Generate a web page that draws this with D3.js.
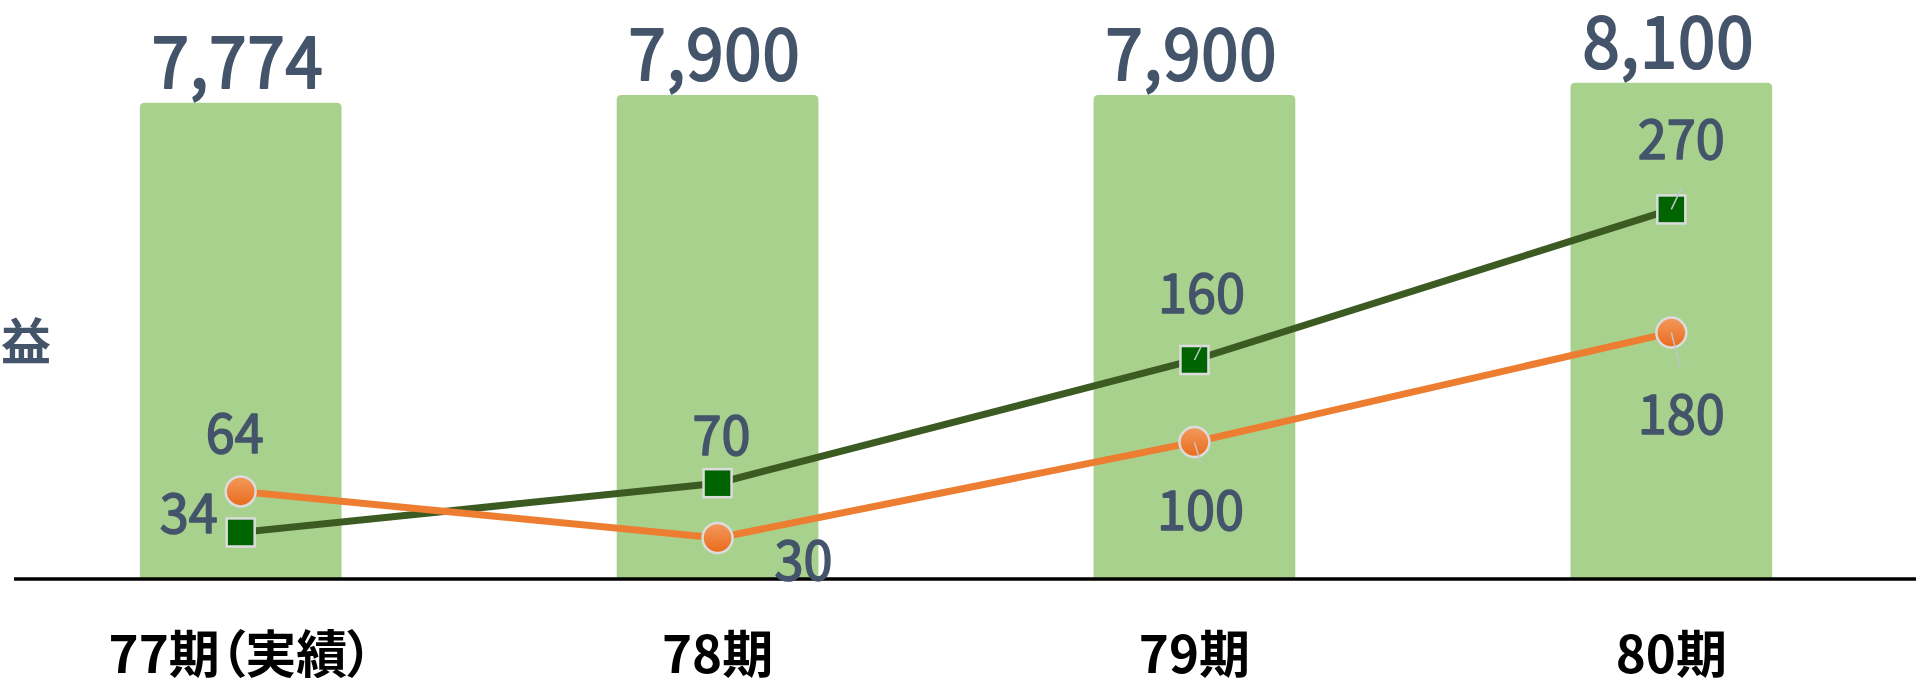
<!DOCTYPE html>
<html>
<head>
<meta charset="utf-8">
<script src="https://cdn.jsdelivr.net/npm/d3@7"></script>
<style>
	html, body { margin: 0; padding: 0; background: #fff; overflow: hidden; }
	svg { display: block; font-family: "Noto Sans CJK JP", "Noto Sans", sans-serif; }
	.cat { font-feature-settings: "palt"; }
</style>
</head>
<body>
<div id="chart"></div>
<script>
var categories = ['77期（実績）', '78期', '79期', '80期'];
var sales = [7774, 7900, 7900, 8100];
var profitA = [34, 70, 160, 270];   // green squares
var profitB = [64, 30, 100, 180];   // orange circles

// label placement, relative to each point (dx, dy to baseline), optional leader end
var labelA = [
	{dx: -52, dy: 1}, {dx: 4, dy: -28},
	{dx: 7, dy: -47, lx: 7, ly: -14}, {dx: 10, dy: -50, lx: 10, ly: -21}
];
var labelB = [
	{dx: -6, dy: -38}, {dx: 86, dy: 42},
	{dx: 6, dy: 88, lx: 6, ly: 20}, {dx: 10, dy: 101, lx: 9, ly: 35}
];

window.onload = function () {
	var width = 1916, height = 678, baseY = 579;
	var textColor = '#44546a';

	var svg = d3.select('#chart').append('svg')
		.attr('width', width)
		.attr('height', height);

	var defs = svg.append('defs');
	var grad = defs.append('linearGradient')
		.attr('id', 'orangeFill')
		.attr('x1', 0).attr('y1', 0).attr('x2', 0).attr('y2', 1);
	grad.append('stop').attr('offset', '0%').attr('stop-color', '#f29a5e');
	grad.append('stop').attr('offset', '100%').attr('stop-color', '#ea6a1a');

	var x = d3.scaleBand()
		.domain(categories)
		.range([2, 1910])
		.paddingInner(0.577)
		.paddingOuter(0.289);

	var yBar = d3.scaleLinear().domain([0, 9450]).range([baseY, 0]);
	var yLine = d3.scaleLinear().domain([0, 423]).range([baseY, 0]);

	function cx(i) { return x(categories[i]) + x.bandwidth() / 2; }

	// "益" from the clipped axis title
	svg.append('text')
		.attr('x', 26)
		.attr('y', 360)
		.attr('text-anchor', 'middle')
		.attr('font-size', 50)
		.attr('font-weight', 700)
		.attr('fill', textColor)
		.text('益');

	// bars
	svg.append('g').selectAll('path')
		.data(sales)
		.enter().append('path')
		.attr('fill', '#a9d18e')
		.attr('d', function (d, i) {
			var x0 = x(categories[i]), w = x.bandwidth(), y0 = yBar(d), r = 5;
			return 'M' + x0 + ',' + baseY +
				'L' + x0 + ',' + (y0 + r) +
				'Q' + x0 + ',' + y0 + ' ' + (x0 + r) + ',' + y0 +
				'L' + (x0 + w - r) + ',' + y0 +
				'Q' + (x0 + w) + ',' + y0 + ' ' + (x0 + w) + ',' + (y0 + r) +
				'L' + (x0 + w) + ',' + baseY + 'Z';
		});

	svg.append('g').selectAll('text')
		.data(sales)
		.enter().append('text')
		.attr('transform', function (d, i) {
			return 'translate(' + (cx(i) - 3) + ',' + (yBar(d) - 15) + ') scale(0.93,1)';
		})
		.attr('text-anchor', 'middle')
		.attr('font-size', 72)
		.attr('letter-spacing', 1)
		.attr('fill', textColor)
		.attr('stroke', textColor)
		.attr('stroke-width', 2.2)
		.attr('stroke-linejoin', 'round')
		.text(function (d) { return d3.format(',')(d); });

	// axis line
	svg.append('line')
		.attr('x1', 14).attr('x2', width)
		.attr('y1', baseY).attr('y2', baseY)
		.attr('stroke', '#000')
		.attr('stroke-width', 3.5);

	// category labels
	svg.append('g').selectAll('text')
		.data(categories)
		.enter().append('text')
		.attr('class', 'cat')
		.attr('x', function (d, i) { return cx(i); })
		.attr('y', 673)
		.attr('text-anchor', 'middle')
		.attr('font-size', 51)
		.attr('font-weight', 700)
		.attr('fill', '#000')
		.text(function (d) { return d; });

	var line = d3.line()
		.x(function (d, i) { return cx(i); });

	svg.append('path')
		.datum(profitA)
		.attr('fill', 'none')
		.attr('stroke', '#3c5b23')
		.attr('stroke-width', 7)
		.attr('d', line.y(function (d) { return yLine(d); }));

	svg.append('path')
		.datum(profitB)
		.attr('fill', 'none')
		.attr('stroke', '#ed7d31')
		.attr('stroke-width', 7)
		.attr('d', line.y(function (d) { return yLine(d); }));

	// markers
	svg.append('g').selectAll('circle')
		.data(profitB)
		.enter().append('circle')
		.attr('cx', function (d, i) { return cx(i); })
		.attr('cy', function (d) { return yLine(d); })
		.attr('r', 15)
		.attr('fill', 'url(#orangeFill)')
		.attr('stroke', '#dcdcdc')
		.attr('stroke-width', 2.5);

	svg.append('g').selectAll('rect')
		.data(profitA)
		.enter().append('rect')
		.attr('x', function (d, i) { return cx(i) - 14; })
		.attr('y', function (d) { return yLine(d) - 14; })
		.attr('width', 28)
		.attr('height', 28)
		.attr('fill', '#006400')
		.attr('stroke', '#dcdcdc')
		.attr('stroke-width', 2.5);

	// leaders and value labels
	function drawLabels(values, offsets) {
		var g = svg.append('g');
		values.forEach(function (d, i) {
			var px = cx(i), py = yLine(d), o = offsets[i];
			if (o.lx !== undefined) {
				g.append('line')
					.attr('x1', px).attr('y1', py)
					.attr('x2', px + o.lx).attr('y2', py + o.ly)
					.attr('stroke', '#bfc5cf')
					.attr('stroke-width', 1.5);
			}
			g.append('text')
				.attr('transform', 'translate(' + (px + o.dx) + ',' + (py + o.dy) + ') scale(0.95,1)')
				.attr('text-anchor', 'middle')
				.attr('font-size', 55)
				.attr('fill', textColor)
				.attr('stroke', textColor)
				.attr('stroke-width', 1.6)
				.attr('stroke-linejoin', 'round')
				.text(d);
		});
	}
	drawLabels(profitA, labelA);
	drawLabels(profitB, labelB);
};
</script>
</body>
</html>
